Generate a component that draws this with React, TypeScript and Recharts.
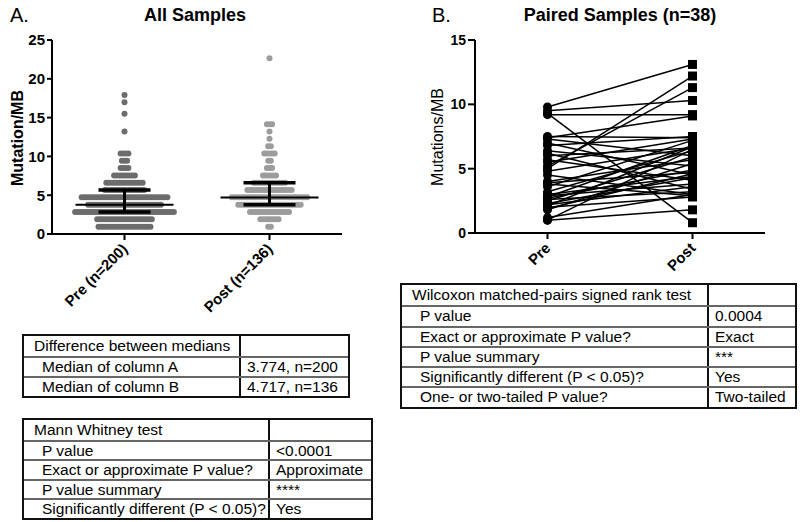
import { ScatterChart, Scatter, LineChart, Line, XAxis, YAxis } from "recharts";

const FONT = "'Liberation Sans', Arial, sans-serif";

// ---- panel A: all samples (swarm rows: value and how many samples sit on it)
const groupLabels = ["Pre (n=200)", "Post (n=136)"];
const preLevels = [0.94, 1.89, 2.83, 3.77, 4.72, 5.66, 6.6, 7.55, 8.49, 9.43, 10.38, 13.21, 15.5, 16.98, 17.92];
const preCounts = [21, 22, 39, 29, 34, 16, 15, 9, 4, 3, 4, 1, 1, 1, 1];
const postLevels = [0.94, 1.89, 2.83, 3.77, 4.72, 5.66, 6.6, 7.55, 8.49, 9.43, 10.38, 11.32, 12.26, 13.21, 14.15, 22.64];
const postCounts = [2, 8, 16, 25, 30, 18, 13, 6, 3, 2, 5, 2, 1, 1, 3, 1];
const medians = [3.774, 4.717];
const lowerQuartiles = [2.83, 3.77];
const upperQuartiles = [5.66, 6.6];
const yTicksA = [0, 5, 10, 15, 20, 25];

// ---- panel B: paired samples
const pairedLabels = ["Pre", "Post"];
const pairedPre = [9.8, 9.5, 9.2, 9.3, 5.0, 5.2, 7.4, 7.5, 7.3, 7.0, 6.8, 6.4, 6.2, 6.0, 5.7, 5.5, 4.8, 4.5, 4.0, 3.9, 3.8, 3.6, 3.2, 3.0, 2.9, 2.8, 2.7, 2.6, 2.5, 2.3, 2.2, 2.1, 2.0, 1.9, 1.8, 1.2, 1.0, 1.0];
const pairedPost = [13.1, 10.3, 9.2, 0.8, 12.2, 11.3, 9.1, 7.4, 6.0, 4.5, 7.5, 5.2, 3.4, 6.6, 4.1, 7.3, 6.6, 3.0, 5.7, 4.7, 2.9, 7.2, 6.4, 4.4, 3.8, 6.8, 4.9, 3.2, 5.9, 4.3, 3.6, 6.7, 2.8, 4.6, 5.4, 3.0, 1.8, 6.5];
const yTicksB = [0, 5, 10, 15];

// ---- tables
const mediansTable = [
  ["Difference between medians", ""],
  ["Median of column A", "3.774, n=200"],
  ["Median of column B", "4.717, n=136"],
];
const mannWhitneyTable = [
  ["Mann Whitney test", ""],
  ["P value", "<0.0001"],
  ["Exact or approximate P value?", "Approximate"],
  ["P value summary", "****"],
  ["Significantly different (P < 0.05)?", "Yes"],
];
const wilcoxonTable = [
  ["Wilcoxon matched-pairs signed rank test", ""],
  ["P value", "0.0004"],
  ["Exact or approximate P value?", "Exact"],
  ["P value summary", "***"],
  ["Significantly different (P < 0.05)?", "Yes"],
  ["One- or two-tailed P value?", "Two-tailed"],
];

const PX_PER_UNIT = 145; // both x axes: 290px wide over 0.5..2.5

function swarm(levels: number[], counts: number[], center: number, spacing: number) {
  const pts: { x: number; y: number }[] = [];
  levels.forEach((v, i) => {
    const n = counts[i];
    for (let j = 0; j < n; j++) {
      pts.push({ x: center + ((j - (n - 1) / 2) * spacing) / PX_PER_UNIT, y: v });
    }
  });
  return pts;
}

const prePoints = swarm(preLevels, preCounts, 1, 2.6);
const postPoints = swarm(postLevels, postCounts, 2, 2.6);

// median line, IQR whisker and its two caps, as little two-point segments
const medHalf = 49 / PX_PER_UNIT;
const capHalf = 26 / PX_PER_UNIT;
const summarySegments = medians.flatMap((m, i) => {
  const c = i + 1;
  const lo = lowerQuartiles[i];
  const hi = upperQuartiles[i];
  return [
    { w: 2, pts: [{ x: c - medHalf, y: m }, { x: c + medHalf, y: m }] },
    { w: 3, pts: [{ x: c, y: lo }, { x: c, y: hi }] },
    { w: 3.5, pts: [{ x: c - capHalf, y: lo }, { x: c + capHalf, y: lo }] },
    { w: 3.5, pts: [{ x: c - capHalf, y: hi }, { x: c + capHalf, y: hi }] },
  ];
});

const pairedRows = [pairedPre, pairedPost].map((vals, k) => {
  const row: Record<string, number> = { x: k + 1 };
  vals.forEach((v, i) => (row["s" + i] = v));
  return row;
});

const axisStyle = { stroke: "#000", strokeWidth: 2 };

function rotTick(labels: string[], size: number) {
  return (props: any) => {
    const { x, y, payload } = props;
    const ax = x + 4;
    const ay = y + 8;
    return (
      <text
        x={ax}
        y={ay}
        transform={`rotate(-45 ${ax} ${ay})`}
        textAnchor="end"
        fontSize={size}
        fontWeight="bold"
        fontFamily={FONT}
        fill="#000"
      >
        {labels[payload.value - 1]}
      </text>
    );
  };
}

const dotShape = (color: string) => (p: any) => <circle cx={p.cx} cy={p.cy} r={3} fill={color} />;
const noShape = () => <g />;

const pairDot = (p: any) =>
  p.index === 0 ? (
    <circle key={p.key} cx={p.cx} cy={p.cy} r={4.5} fill="#000" />
  ) : (
    <rect key={p.key} x={p.cx - 4.5} y={p.cy - 4.5} width={9} height={9} fill="#000" />
  );

function StatTable({ rows, left, top, width, col1, rowH }: any) {
  return (
    <div
      style={{
        position: "absolute",
        left,
        top,
        width,
        border: "2px solid #111",
        boxSizing: "border-box",
        fontFamily: FONT,
        fontSize: 15.5,
        color: "#000",
        background: "#fff",
      }}
    >
      {rows.map((r: string[], i: number) => (
        <div
          key={i}
          style={{
            display: "flex",
            height: rowH,
            boxSizing: "border-box",
            borderTop: i ? "2px solid #666" : "none",
            lineHeight: `${rowH - (i ? 2 : 0)}px`,
            whiteSpace: "nowrap",
          }}
        >
          <div style={{ width: col1, borderRight: "2px solid #111", paddingLeft: i ? 18 : 10, boxSizing: "border-box" }}>
            {r[0]}
          </div>
          <div style={{ flex: 1, paddingLeft: 6 }}>{r[1]}</div>
        </div>
      ))}
    </div>
  );
}

export default function App() {
  return (
    <div style={{ position: "absolute", left: 0, top: 0, width: 800, height: 522, background: "#fff", overflow: "hidden" }}>
      <div style={{ position: "absolute", left: 0, top: 0 }}>
        <ScatterChart width={360} height={320} margin={{ top: 40, right: 18, bottom: 6, left: 0 }}>
          <XAxis
            type="number"
            dataKey="x"
            domain={[0.5, 2.5]}
            ticks={[1, 2]}
            height={80}
            axisLine={axisStyle}
            tickLine={axisStyle}
            tickSize={6}
            tick={rotTick(groupLabels, 15)}
          />
          <YAxis
            type="number"
            dataKey="y"
            domain={[0, 25]}
            ticks={yTicksA}
            width={52}
            interval={0}
            axisLine={axisStyle}
            tickLine={axisStyle}
            tickSize={5}
            tick={{ fill: "#000", fontSize: 15, fontWeight: "bold", fontFamily: FONT }}
          />
          <Scatter data={prePoints} shape={dotShape("#6c6c6c")} isAnimationActive={false} />
          <Scatter data={postPoints} shape={dotShape("#9c9c9c")} isAnimationActive={false} />
          {summarySegments.map((s, k) => (
            <Scatter
              key={"seg" + k}
              data={s.pts}
              fill="#000"
              line={{ stroke: "#000", strokeWidth: s.w }}
              lineType="joint"
              shape={noShape}
              isAnimationActive={false}
            />
          ))}
        </ScatterChart>
      </div>

      <div style={{ position: "absolute", left: 400, top: 0 }}>
        <LineChart width={400} height={320} data={pairedRows} margin={{ top: 40, right: 35, bottom: 7, left: 0 }}>
          <XAxis
            type="number"
            dataKey="x"
            domain={[0.5, 2.5]}
            ticks={[1, 2]}
            height={80}
            axisLine={axisStyle}
            tickLine={axisStyle}
            tickSize={6}
            tick={rotTick(pairedLabels, 15)}
          />
          <YAxis
            type="number"
            domain={[0, 15]}
            ticks={yTicksB}
            width={75}
            interval={0}
            axisLine={axisStyle}
            tickLine={axisStyle}
            tickSize={7}
            tick={{ fill: "#000", fontSize: 14, fontWeight: "bold", fontFamily: FONT }}
          />
          {pairedPre.map((_, i) => (
            <Line
              key={i}
              dataKey={"s" + i}
              stroke="#000"
              strokeWidth={1.5}
              dot={pairDot}
              isAnimationActive={false}
            />
          ))}
        </LineChart>
      </div>

      <svg width={800} height={522} style={{ position: "absolute", left: 0, top: 0, pointerEvents: "none" }}>
        <text x={10} y={22} fontSize={20} fontFamily={FONT} fill="#000">A.</text>
        <text x={195} y={21} fontSize={18} fontWeight="bold" textAnchor="middle" fontFamily={FONT} fill="#000">
          All Samples
        </text>
        <text x={432} y={22} fontSize={20} fontFamily={FONT} fill="#000">B.</text>
        <text x={620} y={21} fontSize={18} fontWeight="bold" textAnchor="middle" fontFamily={FONT} fill="#000">
          Paired Samples (n=38)
        </text>
        <text transform="translate(23 138) rotate(-90)" fontSize={16} fontWeight="bold" textAnchor="middle" fontFamily={FONT} fill="#000">
          Mutation/MB
        </text>
        <text transform="translate(443 137) rotate(-90)" fontSize={16} textAnchor="middle" fontFamily={FONT} fill="#000">
          Mutations/MB
        </text>
      </svg>

      <StatTable rows={mediansTable} left={22} top={334} width={328} col1={217} rowH={20} />
      <StatTable rows={mannWhitneyTable} left={22} top={418} width={351} col1={246} rowH={19.5} />
      <StatTable rows={wilcoxonTable} left={400} top={283} width={397} col1={307} rowH={20.3} />
    </div>
  );
}
